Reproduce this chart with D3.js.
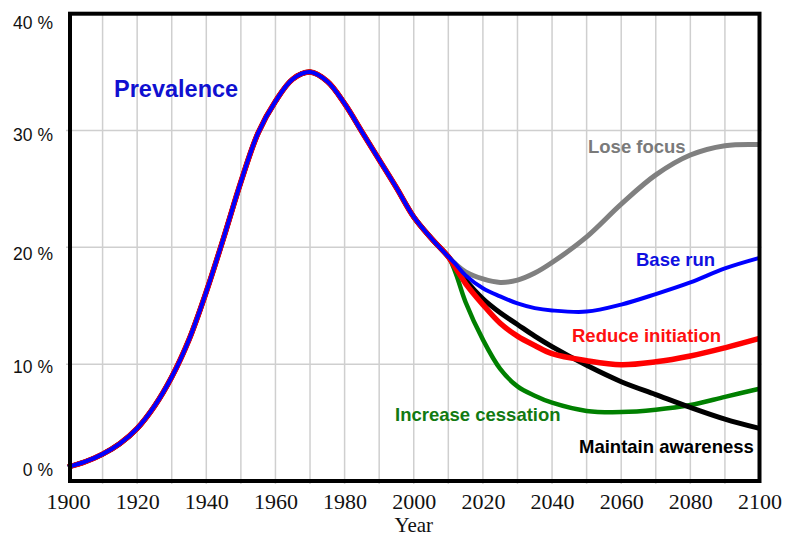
<!DOCTYPE html>
<html>
<head>
<meta charset="utf-8">
<script src="https://cdn.jsdelivr.net/npm/d3@7"></script>
<style>
  html, body { margin: 0; padding: 0; background: #ffffff; }
  svg { display: block; }
</style>
</head>
<body>
<svg id="chart" width="785" height="538"></svg>
<script>
// ---- data ----
const histYears  = [1900,1905,1910,1915,1920,1925,1930,1935,1940,1945,1950,1955,1960,1965,1970,1975,1980,1985,1990,1995,2000,2005,2010];
const histValues = [1.2,1.65,2.3,3.2,4.5,6.4,8.9,12.1,16.2,20.8,25.6,29.8,32.5,34.4,35.0,34.2,32.3,29.9,27.5,25.1,22.6,20.8,19.2];

const scenarioYears     = [2010,2012,2015,2020,2025,2030,2035,2040,2050,2060,2070,2080,2090,2100];
const loseFocus         = [19.2,18.6,17.9,17.3,17.0,17.2,17.8,18.7,20.9,23.7,26.2,27.9,28.7,28.8];
const baseRun           = [19.2,18.6,17.6,16.5,15.8,15.2,14.8,14.6,14.5,15.1,16.0,17.0,18.2,19.1];
const reduceInitiation  = [19.2,18.3,16.9,15.1,13.5,12.4,11.6,10.9,10.3,9.95,10.2,10.7,11.4,12.2];
const maintainAwareness = [19.2,18.4,17.2,15.6,14.4,13.4,12.4,11.5,9.9,8.5,7.4,6.3,5.3,4.5];
const increaseCessation = [19.2,17.9,15.3,12.1,9.6,8.1,7.3,6.7,6.0,5.9,6.1,6.5,7.2,7.9];

const seriesNames  = ["Lose focus","Increase cessation","Maintain awareness","Reduce initiation","Base run"];
const seriesValues = [loseFocus, increaseCessation, maintainAwareness, reduceInitiation, baseRun];

const xTickLabels = [1900,1920,1940,1960,1980,2000,2020,2040,2060,2080,2100];
const xGridYears  = [1910,1920,1930,1940,1950,1960,1970,1980,1990,2000,2010,2020,2030,2040,2050,2060,2070,2080,2090];
const yTickValues = [0,10,20,30,40];
const yGridValues = [10,20,30];

// ---- styling ----
const styles = {
  "Lose focus":         {color:"#808080", text:"#7a7a7a", width:5,   lx:588, ly:153},
  "Increase cessation": {color:"#008000", text:"#127a12", width:4.5, lx:395, ly:420.5},
  "Maintain awareness": {color:"#000000", text:"#000000", width:5,   lx:579, ly:453},
  "Reduce initiation":  {color:"#ff0000", text:"#ff1010", width:5.5, lx:572, ly:341.5},
  "Base run":           {color:"#0000ff", text:"#1010e0", width:4,   lx:636, ly:265.5}
};

const svg = d3.select("#chart");
const x = d3.scaleLinear().domain([1900, 2100]).range([68, 759.5]);
const y = d3.scaleLinear().domain([0, 40]).range([481, 13.7]);

// gridlines
const grid = svg.append("g");
grid.selectAll("line.v").data(xGridYears).enter().append("line")
  .attr("x1", d => x(d)).attr("x2", d => x(d))
  .attr("y1", y(40)).attr("y2", y(0) + 3)
  .attr("stroke", "#cfcfcf").attr("stroke-width", 1.5);
grid.selectAll("line.h").data(yGridValues).enter().append("line")
  .attr("x1", x(1900) - 2).attr("x2", x(2100) + 2)
  .attr("y1", d => y(d)).attr("y2", d => y(d))
  .attr("stroke", "#cfcfcf").attr("stroke-width", 1.5);

// lines
const line = d3.line()
  .x(d => x(d[0])).y(d => y(d[1]))
  .curve(d3.curveCatmullRom.alpha(0.5));

const lines = svg.append("g");
seriesNames.forEach((name, i) => {
  const pts = histYears.map((yr, k) => [yr, histValues[k]])
    .concat(scenarioYears.slice(1).map((yr, k) => [yr, seriesValues[i][k + 1]]));
  lines.append("path")
    .attr("d", line(pts))
    .attr("fill", "none")
    .attr("stroke", styles[name].color)
    .attr("stroke-width", styles[name].width)
    .attr("stroke-linejoin", "round")
    .attr("stroke-linecap", "butt");
});

// frame (thick black)
const frame = svg.append("g").attr("stroke", "#000").attr("stroke-width", 4).attr("fill", "none");
frame.append("rect")
  .attr("x", x(1900) + 2).attr("y", y(40))
  .attr("width", x(2100) - x(1900) - 2).attr("height", y(0) - y(40));

// x axis labels
const xAxis = d3.axisBottom(x).tickValues(xTickLabels).tickFormat(d3.format("d")).tickSize(0).tickPadding(0);
const gx = svg.append("g").attr("transform", `translate(0, ${y(0)})`).call(xAxis);
gx.select(".domain").remove();
gx.selectAll("text")
  .attr("y", 28).attr("dy", 0)
  .attr("font-family", "'Liberation Serif', 'Times New Roman', serif")
  .attr("font-size", 22).attr("fill", "#111");

// y axis labels
const yOffsets = {0: -6, 10: 8.5, 20: 12.5, 30: 9.5, 40: 14.5};
const yAxis = d3.axisLeft(y).tickValues(yTickValues).tickFormat(d => d + " %").tickSize(0).tickPadding(0);
const gy = svg.append("g").attr("transform", "translate(53, 0)").call(yAxis);
gy.select(".domain").remove();
gy.selectAll("text")
  .attr("x", 0).attr("dy", d => yOffsets[d])
  .attr("font-family", "'Liberation Sans', Arial, sans-serif")
  .attr("font-size", 17.5).attr("fill", "#111");

// axis title
svg.append("text")
  .attr("x", x(2000)).attr("y", 532)
  .attr("text-anchor", "middle")
  .attr("font-family", "'Liberation Serif', 'Times New Roman', serif")
  .attr("font-size", 21).attr("fill", "#111")
  .text("Year");

// chart title
svg.append("text")
  .attr("x", 114).attr("y", 97)
  .attr("font-family", "'Liberation Sans', Arial, sans-serif")
  .attr("font-weight", "bold").attr("font-size", 23.5)
  .attr("fill", "#1010d0")
  .text("Prevalence");

// scenario labels
seriesNames.forEach(name => {
  const s = styles[name];
  svg.append("text")
    .attr("x", s.lx).attr("y", s.ly)
    .attr("font-family", "'Liberation Sans', Arial, sans-serif")
    .attr("font-weight", "bold").attr("font-size", 18.5)
    .attr("fill", s.text)
    .text(name);
});
</script>
</body>
</html>
